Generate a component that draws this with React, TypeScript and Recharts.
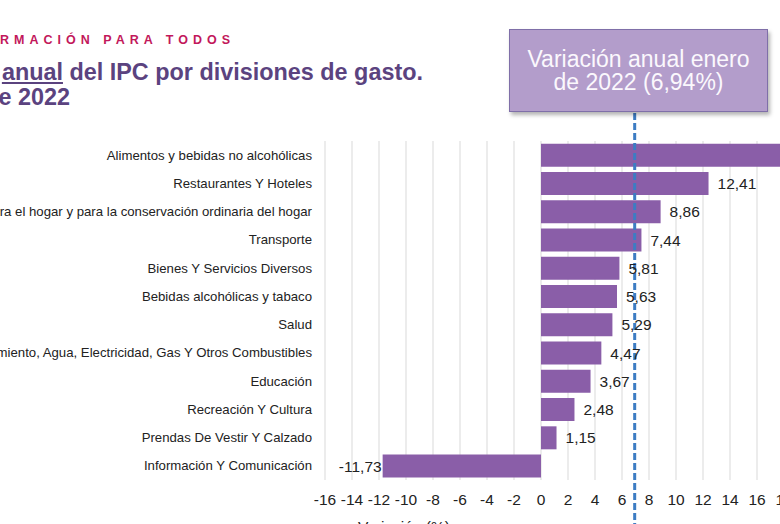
import React from 'react'
import {
  BarChart,
  Bar,
  XAxis,
  YAxis,
  CartesianGrid,
  ReferenceLine,
  LabelList,
} from 'recharts'

const categories = [
  'Alimentos y bebidas no alcohólicas',
  'Restaurantes Y Hoteles',
  'Muebles, artículos para el hogar y para la conservación ordinaria del hogar',
  'Transporte',
  'Bienes Y Servicios Diversos',
  'Bebidas alcohólicas y tabaco',
  'Salud',
  'Alojamiento, Agua, Electricidad, Gas Y Otros Combustibles',
  'Educación',
  'Recreación Y Cultura',
  'Prendas De Vestir Y Calzado',
  'Información Y Comunicación',
]
const values = [19.94, 12.41, 8.86, 7.44, 5.81, 5.63, 5.29, 4.47, 3.67, 2.48, 1.15, -11.73]
const xTicks = [-16, -14, -12, -10, -8, -6, -4, -2, 0, 2, 4, 6, 8, 10, 12, 14, 16, 18, 20]
const totalVariation = 6.94

const data = categories.map((name, i) => ({ name, value: values[i] }))

const FONT = '"Liberation Sans", Arial, sans-serif'
const BAR = '#8a5ea8'
const TITLE = '#5b437f'

const fmt = (v: number) => v.toFixed(2).replace('.', ',')

function CategoryTick(props: any) {
  const { x, y, payload } = props
  return (
    <text x={x} y={y} dy={4.5} textAnchor="end" fontSize={13.2} fill="#222" fontFamily={FONT}>
      {payload.value}
    </text>
  )
}

function ValueLabel(props: any) {
  const vb = props.viewBox || props
  const x = Number(vb.x)
  const w = Number(vb.width)
  const y = Number(vb.y) + Number(vb.height) / 2
  const v = Number(props.value)
  const left = Math.min(x, x + w)
  const right = Math.max(x, x + w)
  if (v < 0) {
    return (
      <text x={left - 1} y={y} dy={5.5} textAnchor="end" fontSize={15.5} fill="#222" fontFamily={FONT}>
        {fmt(v)}
      </text>
    )
  }
  return (
    <text x={right + 9} y={y} dy={5.5} textAnchor="start" fontSize={15.5} fill="#222" fontFamily={FONT}>
      {fmt(v)}
    </text>
  )
}

function DashedLine(props: any) {
  const top = Math.min(props.y1, props.y2)
  const bottom = Math.max(props.y1, props.y2)
  return (
    <line
      x1={props.x1}
      x2={props.x2}
      y1={top - 28}
      y2={bottom + 60}
      stroke="#3d7cc3"
      strokeWidth={3}
      strokeDasharray="7 3"
    />
  )
}

export default function App() {
  return (
    <div
      style={{
        position: 'fixed',
        left: 0,
        top: 0,
        width: 780,
        height: 524,
        overflow: 'hidden',
        background: '#fff',
        fontFamily: FONT,
      }}
    >
      {/* header, cropped on the left like the slide */}
      <div
        style={{
          position: 'absolute',
          right: 780 - 230 - 5,
          top: 34,
          fontSize: 12.5,
          lineHeight: '12.5px',
          fontWeight: 700,
          letterSpacing: 5,
          color: '#c2185b',
          whiteSpace: 'nowrap',
        }}
      >
        INFORMACIÓN PARA TODOS
      </div>
      <div
        style={{
          position: 'absolute',
          right: 780 - 423,
          top: 61,
          fontSize: 23.4,
          lineHeight: '23.4px',
          fontWeight: 700,
          color: TITLE,
          whiteSpace: 'nowrap',
        }}
      >
        Variación <span style={{ textDecoration: 'underline' }}>anual</span> del IPC por divisiones de gasto.
      </div>
      <div
        style={{
          position: 'absolute',
          right: 780 - 70,
          top: 86,
          fontSize: 23.4,
          lineHeight: '23.4px',
          fontWeight: 700,
          color: TITLE,
          whiteSpace: 'nowrap',
        }}
      >
        Enero de 2022
      </div>

      <div style={{ position: 'absolute', left: -155, top: 0 }}>
        <BarChart
          width={986}
          height={540}
          data={data}
          layout="vertical"
          margin={{ top: 141, right: 20, bottom: 0, left: 0 }}
          barCategoryGap="10%"
        >
          <CartesianGrid horizontal={false} stroke="#d9d9d9" />
          <XAxis
            type="number"
            domain={[-16, 20]}
            ticks={xTicks}
            interval={0}
            axisLine={false}
            tickLine={false}
            tickSize={0}
            tickMargin={14}
            height={60}
            tick={{ fontSize: 15.5, fill: '#222', fontFamily: FONT }}
          />
          <YAxis
            type="category"
            dataKey="name"
            width={480}
            interval={0}
            axisLine={false}
            tickLine={false}
            tickSize={0}
            tickMargin={13}
            tick={<CategoryTick />}
          />
          <ReferenceLine x={totalVariation} ifOverflow="visible" shape={DashedLine} />
          <Bar dataKey="value" fill={BAR} isAnimationActive={false}>
            <LabelList dataKey="value" content={ValueLabel} />
          </Bar>
        </BarChart>
      </div>

      <div
        style={{
          position: 'absolute',
          left: 358,
          top: 519,
          fontSize: 15.5,
          lineHeight: '15.5px',
          color: '#222',
          whiteSpace: 'nowrap',
        }}
      >
        Variación (%)
      </div>

      {/* annotation box */}
      <div
        style={{
          position: 'absolute',
          left: 509,
          top: 29,
          width: 259,
          height: 83,
          boxSizing: 'border-box',
          background: '#b39dcb',
          border: '1px solid #7f6fa8',
          boxShadow: '2px 3px 4px rgba(0,0,0,0.3)',
          color: '#fbf8fd',
          fontSize: 23,
          lineHeight: '23px',
          display: 'flex',
          flexDirection: 'column',
          alignItems: 'center',
          justifyContent: 'center',
          textAlign: 'center',
        }}
      >
        <div>Variación anual enero</div>
        <div>de 2022 (6,94%)</div>
      </div>
    </div>
  )
}
